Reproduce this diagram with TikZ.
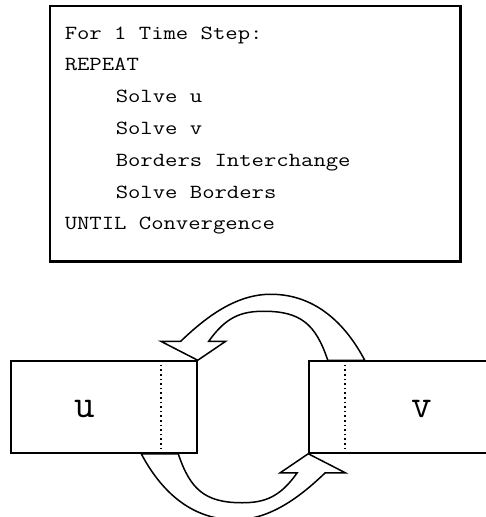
\documentclass[tikz,border=0pt]{standalone}
\usepackage{tikz}
\usetikzlibrary{positioning}

% monospaced code text, stretched a little sideways
\newcommand{\codetext}[1]{\scalebox{1.2}[1]{#1}}

\tikzset{
  codeline/.style={anchor=base west, inner sep=0pt,
    font=\fontsize{20}{24}\selectfont\ttfamily},
  block/.style={draw, minimum width=186pt, minimum height=92pt, inner sep=0pt},
  tag/.style={inner sep=0pt, font=\fontsize{40}{48}\selectfont\ttfamily},
  border/.style={line width=1.6pt, dash pattern=on 1.6pt off 3pt},
  % hollow curved arrow, tip at the origin
  pics/swaparrow/.style={code={
    \draw[fill=white] (167,0) .. controls (148,36) and (118,66) .. (73,66)
      .. controls (38,66) and (8,43) .. (-17,19)
      -- (-37,19) -- (0,0) -- (28,19) -- (11,19)
      .. controls (28,43) and (43,49) .. (66,49)
      .. controls (103,49) and (118,36) .. (130,0) -- cycle;
  }}
}

\begin{document}
\begin{tikzpicture}[x=1pt, y=1pt, line width=1.5pt]
  \useasboundingbox (0,0) rectangle (486,-517);

  % algorithm box with heavier right and bottom edges
  \node[draw, anchor=north west, inner sep=0pt, minimum width=410pt,
        minimum height=255pt] (algo) at (49,-5) {};
  \draw[line width=3pt] (algo.north east) -- (algo.south east) -- (algo.south west);

  \foreach \i/\x/\t in {0/64/For 1 Time Step:, 1/64/REPEAT, 2/115/Solve u,
                        3/115/Solve v, 4/115/Borders Interchange,
                        5/115/Solve Borders, 6/64/UNTIL Convergence}{
    \pgfmathsetmacro{\y}{-39-31.8*\i}
    \node[codeline] (line\i) at (\x,\y) {\codetext{\t}};
  }

  % the two subdomains and their overlap borders
  \node[block] (u) at (104,-407) {};
  \node[block] (v) at (402,-407) {};
  \draw[border] ([xshift=-37pt]u.north east) -- ([xshift=-37pt]u.south east);
  \draw[border] ([xshift=37pt]v.north west) -- ([xshift=37pt]v.south west);
  \node[tag, right=63pt of u.west, yshift=-2pt] (ulab) {u};
  \node[tag, left=63pt of v.east, yshift=-2pt] (vlab) {v};

  % border exchange
  \pic at (u.north east) {swaparrow};
  \pic[rotate=180] at (v.south west) {swaparrow};

\end{tikzpicture}
\end{document}
